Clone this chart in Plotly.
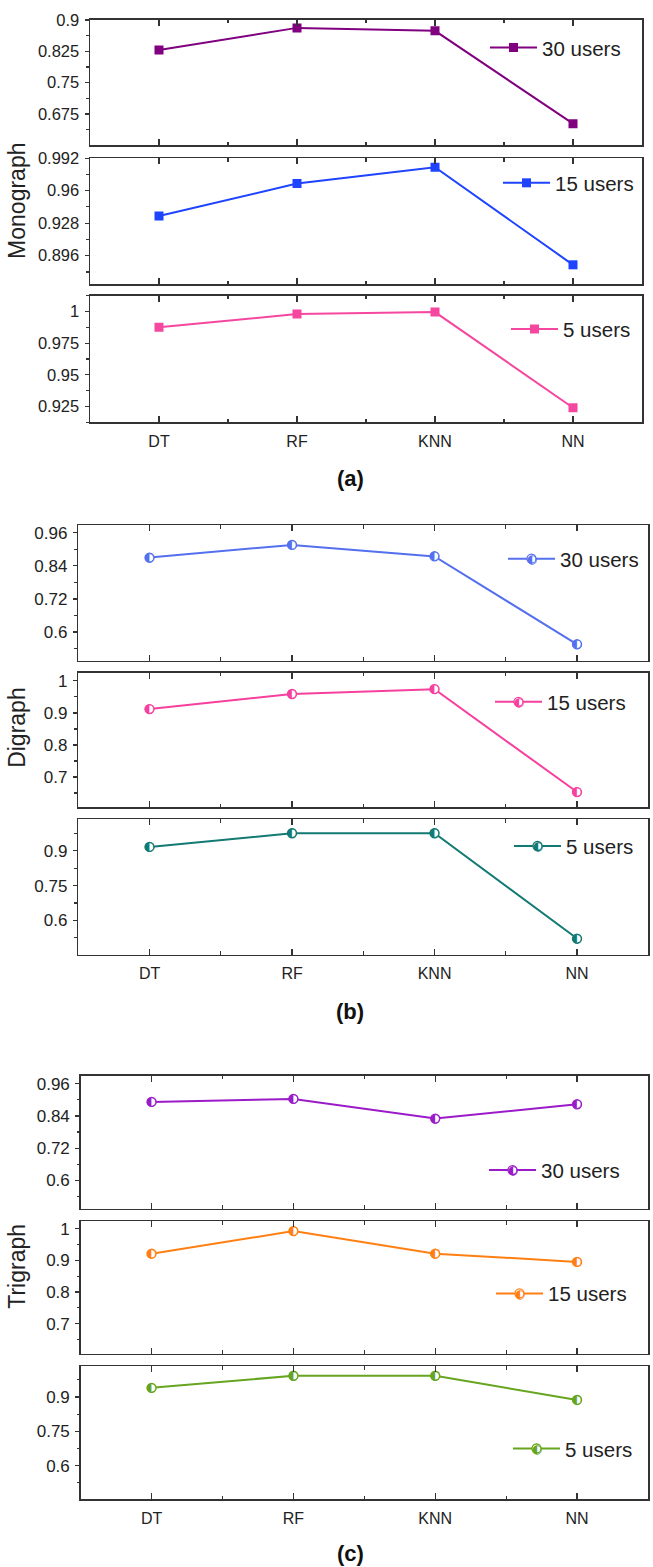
import plotly.graph_objects as go

W, H = 653, 1567

categories = ["DT", "RF", "KNN", "NN"]

mono_30 = [0.828, 0.881, 0.874, 0.652]
mono_15 = [0.935, 0.967, 0.983, 0.887]
mono_5 = [0.9875, 0.998, 0.9995, 0.924]
di_30 = [0.870, 0.916, 0.874, 0.555]
di_15 = [0.912, 0.959, 0.974, 0.653]
di_5 = [0.917, 0.976, 0.976, 0.522]
tri_30 = [0.892, 0.903, 0.830, 0.883]
tri_15 = [0.921, 0.992, 0.921, 0.895]
tri_5 = [0.940, 0.993, 0.993, 0.887]

series_names = ["30 users", "15 users", "5 users"]

# tick labels per panel
ticks_a1 = ["0.675", "0.75", "0.825", "0.9"]
ticks_a2 = ["0.896", "0.928", "0.96", "0.992"]
ticks_a3 = ["0.925", "0.95", "0.975", "1"]
ticks_b1 = ["0.6", "0.72", "0.84", "0.96"]
ticks_b2 = ["0.7", "0.8", "0.9", "1"]
ticks_b3 = ["0.6", "0.75", "0.9"]

FONT = "Liberation Sans, Arial, sans-serif"
AXC = "#333333"
HALF = "◐"

# panel definitions: (values, name, color, style, yrange, ticks, minor_step, xdomain px, ydomain px, legend px)
panels = [
    (mono_30, series_names[0], "#800080", "sq", [0.6005, 0.9], ticks_a1, 0.0375, (90, 642), (11, 137), (542, 39)),
    (mono_15, series_names[1], "#1E44FF", "sq", [0.868, 0.992], ticks_a2, 0.016, (90, 642), (150, 276.7), (555, 175)),
    (mono_5, series_names[2], "#F5479F", "sq", [0.9125, 1.0125], ticks_a3, 0.0125, (90, 642), (288.3, 415.7), (563, 322)),
    (di_30, series_names[0], "#5570EE", "half", [0.495, 0.987], ticks_b1, 0.06, (78.3, 648.3), (519.3, 655.7), (560, 553)),
    (di_15, series_names[1], "#F7409E", "half", [0.606, 1.025], ticks_b2, 0.05, (78.3, 648.3), (667.7, 802.7), (547, 697)),
    (di_5, series_names[2], "#127A73", "half", [0.453, 1.036], ticks_b3, 0.075, (78.3, 648.3), (815, 951), (566, 842)),
    (tri_30, series_names[0], "#9B1BC9", "half", [0.495, 0.99], ticks_b1, 0.06, (80.7, 648), (1072.7, 1206.7), (541, 1168)),
    (tri_15, series_names[1], "#FF7F12", "half", [0.606, 1.023], ticks_b2, 0.05, (80.7, 648), (1219.3, 1352.3), (548, 1292)),
    (tri_5, series_names[2], "#66A51F", "half", [0.452, 1.035], ticks_b3, 0.075, (80.7, 648), (1365, 1499), (565, 1448)),
]

xpos = list(range(len(categories)))

fig = go.Figure()
layout = dict(
    width=W, height=H, margin=dict(l=0, r=0, t=0, b=0),
    paper_bgcolor="white", plot_bgcolor="white",
    font=dict(family=FONT, size=16, color="#222222"),
    showlegend=True,
)
annotations = []

for i, (vals, name, col, style, yr, tks, mstep, xd, yd, lg) in enumerate(panels):
    n = i + 1
    xa = "x" if n == 1 else f"x{n}"
    ya = "y" if n == 1 else f"y{n}"
    lgname = "legend" if n == 1 else f"legend{n}"
    if style == "sq":
        marker = dict(symbol="square", size=9, color=col, line=dict(width=0))
    else:
        marker = dict(symbol="circle", size=9, color="white", line=dict(width=1.3, color=col))
    fig.add_trace(go.Scatter(
        x=xpos, y=vals, name=name, mode="lines+markers",
        line=dict(color=col, width=2), marker=marker,
        xaxis=xa, yaxis=ya, legend=lgname, hoverinfo="skip",
    ))
    if style == "half":
        fig.add_trace(go.Scatter(
            x=xpos, y=vals, mode="text", text=[HALF] * len(vals),
            textposition="middle center",
            textfont=dict(family="DejaVu Sans", size=12, color=col),
            xaxis=xa, yaxis=ya, showlegend=False, hoverinfo="skip",
        ))
    tv = [float(t) for t in tks]
    bottom = (n % 3 == 0)
    ytf = 16.5 if style == "sq" else 17
    layout["xaxis" if n == 1 else f"xaxis{n}"] = dict(
        domain=[xd[0] / W, xd[1] / W], anchor=ya, range=[-0.5, 3.5],
        tickmode="array", tickvals=xpos, ticktext=categories,
        showticklabels=bottom, ticks="inside", ticklen=6, tickwidth=1.2, tickcolor=AXC,
        minor=dict(tickmode="linear", tick0=0.5, dtick=1, ticks="inside", ticklen=3.5, tickwidth=1.2, tickcolor=AXC),
        showline=True, linecolor=AXC, linewidth=1.5, mirror="ticks",
        showgrid=False, zeroline=False, fixedrange=True, ticklabelstandoff=4,
        tickfont=dict(family=FONT, size=16, color="#222222"),
    )
    layout["yaxis" if n == 1 else f"yaxis{n}"] = dict(
        domain=[1 - yd[1] / H, 1 - yd[0] / H], anchor=xa, range=yr,
        tickmode="array", tickvals=tv, ticktext=tks,
        ticks="outside", ticklen=4, tickwidth=1.2, tickcolor=AXC,
        minor=dict(tickmode="linear", tick0=tv[0] - mstep, dtick=2 * mstep, ticks="outside", ticklen=2.5, tickwidth=1.2, tickcolor=AXC),
        showline=True, linecolor=AXC, linewidth=1.5, mirror=True,
        showgrid=False, zeroline=False, fixedrange=True, ticklabelstandoff=2,
        tickfont=dict(family=FONT, size=ytf, color="#222222"),
    )
    # right-side inward ticks
    layout[f"yaxis{n + 9}"] = dict(
        overlaying=ya, side="right", anchor=xa, range=yr,
        tickmode="array", tickvals=tv, showticklabels=False,
        ticks="inside", ticklen=4, tickwidth=1.2, tickcolor=AXC,
        minor=dict(tickmode="linear", tick0=tv[0] - mstep, dtick=2 * mstep, ticks="inside", ticklen=2.5, tickwidth=1.2, tickcolor=AXC),
        showline=False, showgrid=False, zeroline=False, fixedrange=True,
    )
    legx = lg[0] - 57
    layout[lgname] = dict(
        x=legx / W, y=1 - lg[1] / H, xanchor="left", yanchor="middle",
        bgcolor="rgba(0,0,0,0)", borderwidth=0, itemwidth=47,
        font=dict(family=FONT, size=20.5, color="#222222"),
    )
    if style == "half":
        annotations.append(dict(
            text=HALF, x=(legx + 29) / W, y=1 - lg[1] / H, xref="paper", yref="paper",
            showarrow=False, xanchor="center", yanchor="middle",
            font=dict(family="DejaVu Sans", size=12, color=col),
        ))

for txt, yc in [("Monograph", 193), ("Digraph", 723), ("Trigraph", 1265)]:
    annotations.append(dict(
        text=txt, x=17 / W, y=1 - yc / H, xref="paper", yref="paper",
        textangle=-90, showarrow=False, xanchor="center", yanchor="middle",
        font=dict(family=FONT, size=23, color="#222222"),
    ))
for txt, yc in [("(a)", 472), ("(b)", 1008), ("(c)", 1553)]:
    annotations.append(dict(
        text=f"<b>{txt}</b>", x=350 / W, y=1 - yc / H, xref="paper", yref="paper",
        showarrow=False, xanchor="center", yanchor="middle",
        font=dict(family=FONT, size=22, color="#111111"),
    ))
layout["annotations"] = annotations

fig.update_layout(**layout)
fig.write_html(
    "out.html",
    config={"displayModeBar": False, "staticPlot": True},
    post_script="document.body.style.margin='0';document.body.style.padding='0';document.body.style.overflow='hidden';",
)
